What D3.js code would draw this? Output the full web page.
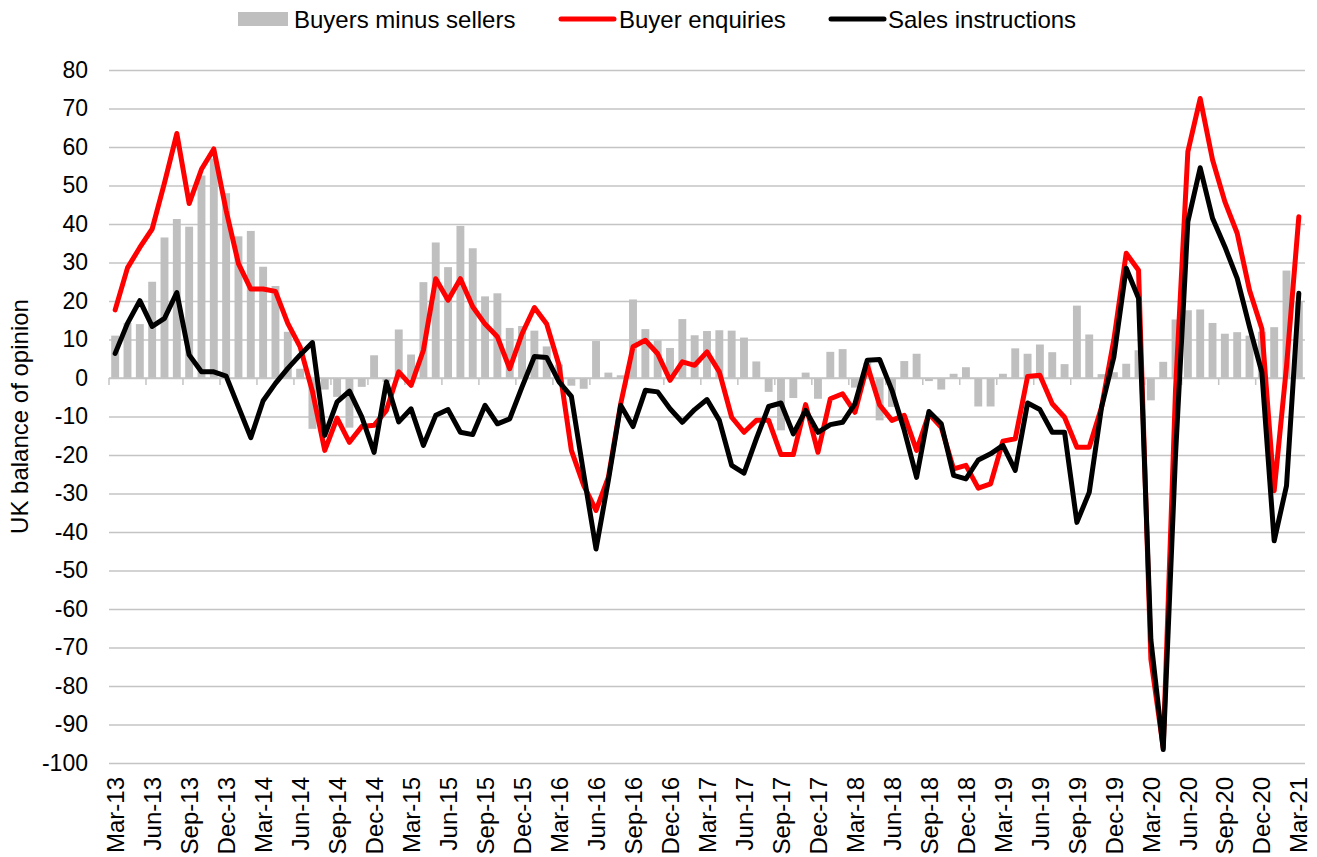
<!DOCTYPE html>
<html>
<head>
<meta charset="utf-8">
<script src="https://cdn.jsdelivr.net/npm/d3@7"></script>
<style>
  body { margin: 0; background: #fff; }
  svg { display: block; }
  text { font-family: "Liberation Sans", Arial, sans-serif; fill: #000; }
</style>
</head>
<body>
<svg id="chart" width="1317" height="857"></svg>
<script>
// Monthly categories, Mar-13 .. Mar-21
const months = [
  "Mar-13","Apr-13","May-13","Jun-13","Jul-13","Aug-13","Sep-13","Oct-13","Nov-13","Dec-13",
  "Jan-14","Feb-14","Mar-14","Apr-14","May-14","Jun-14","Jul-14","Aug-14","Sep-14","Oct-14","Nov-14","Dec-14",
  "Jan-15","Feb-15","Mar-15","Apr-15","May-15","Jun-15","Jul-15","Aug-15","Sep-15","Oct-15","Nov-15","Dec-15",
  "Jan-16","Feb-16","Mar-16","Apr-16","May-16","Jun-16","Jul-16","Aug-16","Sep-16","Oct-16","Nov-16","Dec-16",
  "Jan-17","Feb-17","Mar-17","Apr-17","May-17","Jun-17","Jul-17","Aug-17","Sep-17","Oct-17","Nov-17","Dec-17",
  "Jan-18","Feb-18","Mar-18","Apr-18","May-18","Jun-18","Jul-18","Aug-18","Sep-18","Oct-18","Nov-18","Dec-18",
  "Jan-19","Feb-19","Mar-19","Apr-19","May-19","Jun-19","Jul-19","Aug-19","Sep-19","Oct-19","Nov-19","Dec-19",
  "Jan-20","Feb-20","Mar-20","Apr-20","May-20","Jun-20","Jul-20","Aug-20","Sep-20","Oct-20","Nov-20","Dec-20",
  "Jan-21","Feb-21","Mar-21"
];

// Labelled categories on the x axis (quarterly)
const tickLabels = [
  "Mar-13","Jun-13","Sep-13","Dec-13","Mar-14","Jun-14","Sep-14","Dec-14",
  "Mar-15","Jun-15","Sep-15","Dec-15","Mar-16","Jun-16","Sep-16","Dec-16",
  "Mar-17","Jun-17","Sep-17","Dec-17","Mar-18","Jun-18","Sep-18","Dec-18",
  "Mar-19","Jun-19","Sep-19","Dec-19","Mar-20","Jun-20","Sep-20","Dec-20","Mar-21"
];

const yTicks = [-100,-90,-80,-70,-60,-50,-40,-30,-20,-10,0,10,20,30,40,50,60,70,80];

// Bars: balance of buyers minus sellers
const buyersMinusSellers = [
  11.0, 14.3, 14.0, 25.0, 36.5, 41.3, 39.3, 52.6, 57.0, 48.0,
  36.8, 38.2, 28.9, 23.9, 12.0, 2.4, -13.2, -3.0, -4.9, -12.9, -2.3, 5.9,
  -1.0, 12.6, 6.1, 24.9, 35.2, 28.8, 39.5, 33.7, 21.2, 22.0, 13.0, 13.5,
  12.3, 8.2, 3.5, -2.0, -2.8, 9.6, 1.4, 0.7, 20.4, 12.7, 9.8, 7.8,
  15.3, 11.1, 12.2, 12.4, 12.3, 10.5, 4.3, -3.6, -13.6, -5.2, 1.4, -5.4,
  6.8, 7.5, -2.5, 4.0, -11.0, -7.5, 4.4, 6.3, -0.8, -3.0, 1.1, 2.8,
  -7.4, -7.4, 1.1, 7.7, 6.3, 8.7, 6.7, 3.6, 18.8, 11.3, 1.0, 1.5,
  3.7, 7.2, -5.8, 4.2, 15.2, 17.6, 17.8, 14.3, 11.5, 11.9, 11.0, 12.0,
  13.2, 27.9, 20.0
];

// Red line: buyer enquiries
const buyerEnquiries = [
  17.7, 28.6, 33.9, 38.7, 50.7, 63.5, 45.3, 54.2, 59.5, 43.5,
  29.7, 23.1, 23.1, 22.5, 14.2, 8.1, -3.5, -18.8, -10.4, -16.7, -12.6, -12.3,
  -8.4, 1.6, -1.9, 7.2, 25.8, 20.2, 25.8, 18.5, 14.0, 10.7, 2.4, 11.5,
  18.3, 14.0, 3.3, -18.8, -27.9, -34.4, -25.8, -6.7, 8.1, 9.8, 6.3, -0.6,
  4.2, 3.3, 6.8, 1.6, -10.2, -14.1, -11.0, -11.0, -19.9, -19.9, -6.9, -19.3,
  -5.4, -4.1, -8.9, 3.3, -7.0, -11.0, -9.7, -18.8, -9.3, -12.8, -23.6, -22.7,
  -28.6, -27.5, -16.4, -15.8, 0.4, 0.7, -6.7, -10.2, -18.0, -18.0, -7.6, 10.0,
  32.4, 28.0, -73.0, -96.0, -3.0, 58.8, 72.6, 56.7, 45.8, 37.6, 22.8, 12.8,
  -29.3, 3.0, 41.9
];

// Black line: new sales instructions
const salesInstructions = [
  6.4, 14.2, 20.1, 13.4, 15.5, 22.2, 6.0, 1.6, 1.6, 0.5,
  -7.5, -15.5, -5.9, -1.4, 2.5, 6.0, 9.2, -14.9, -6.2, -3.4, -10.1, -19.3,
  -1.0, -11.4, -8.0, -17.5, -9.7, -8.2, -14.1, -14.7, -7.1, -11.9, -10.6, -2.3,
  5.6, 5.3, -1.0, -4.8, -24.9, -44.4, -26.6, -7.1, -12.6, -3.2, -3.6, -8.0,
  -11.5, -8.2, -5.6, -11.0, -22.7, -24.7, -15.8, -7.4, -6.5, -14.5, -8.4, -14.1,
  -12.1, -11.5, -6.7, 4.6, 4.8, -3.2, -13.6, -25.8, -8.7, -11.9, -25.3, -26.2,
  -21.3, -19.7, -17.5, -24.0, -6.5, -8.2, -14.1, -14.1, -37.5, -29.7, -7.6, 5.5,
  28.5, 20.7, -68.0, -96.5, -20.0, 40.6, 54.6, 41.5, 34.1, 25.9, 13.3, 1.5,
  -42.3, -28.0, 22.0
];

const svg = d3.select("#chart");
const plotLeft = 109, plotRight = 1305, plotTop = 70, plotBottom = 763;

const x = d3.scaleBand()
  .domain(months)
  .range([plotLeft, plotRight])
  .paddingInner(0.36)
  .paddingOuter(0.18);

const y = d3.scaleLinear().domain([-100, 80]).range([plotBottom, plotTop]);

const cx = m => x(m) + x.bandwidth() / 2;

// Horizontal gridlines with value labels (plain hyphen for negatives)
const yAxis = svg.append("g")
  .attr("transform", `translate(${plotLeft},0)`)
  .call(d3.axisLeft(y)
    .tickValues(yTicks)
    .tickFormat(d => String(d))
    .tickSize(-(plotRight - plotLeft))
    .tickPadding(21));
yAxis.select(".domain").remove();
yAxis.selectAll(".tick line").attr("stroke", "#c4c4c4").attr("stroke-width", 1.5);
yAxis.selectAll(".tick text").style("font-size", "23px").attr("fill", "#000");

// Bars
svg.append("g").selectAll("rect")
  .data(buyersMinusSellers)
  .join("rect")
  .attr("x", (d, i) => x(months[i]))
  .attr("width", x.bandwidth())
  .attr("y", d => y(Math.max(0, d)))
  .attr("height", d => Math.abs(y(d) - y(0)))
  .attr("fill", "#bfbfbf");

// Category axis line at zero with tick marks between categories
svg.append("line")
  .attr("x1", plotLeft).attr("x2", plotRight)
  .attr("y1", y(0)).attr("y2", y(0))
  .attr("stroke", "#c4c4c4").attr("stroke-width", 1.5);
svg.append("g").selectAll("line")
  .data(tickLabels)
  .join("line")
  .attr("x1", d => cx(d) - x.step() / 2)
  .attr("x2", d => cx(d) - x.step() / 2)
  .attr("y1", y(0)).attr("y2", y(0) + 7)
  .attr("stroke", "#c4c4c4").attr("stroke-width", 1.5);

// Category labels along the bottom, rotated
const xAxis = svg.append("g")
  .attr("transform", `translate(0,${plotBottom})`)
  .call(d3.axisBottom(x).tickValues(tickLabels).tickSize(0));
xAxis.select(".domain").remove();
xAxis.selectAll(".tick text")
  .attr("transform", "rotate(-90)")
  .attr("x", -14)
  .attr("y", 0)
  .attr("dy", "0.36em")
  .style("text-anchor", "end")
  .style("font-size", "24px")
  .attr("fill", "#000");

// Lines
const line = d3.line()
  .x((d, i) => cx(months[i]))
  .y(d => y(d));

svg.append("path")
  .datum(buyerEnquiries)
  .attr("d", line)
  .attr("fill", "none")
  .attr("stroke", "#ff0000")
  .attr("stroke-width", 5)
  .attr("stroke-linejoin", "round")
  .attr("stroke-linecap", "round");

svg.append("path")
  .datum(salesInstructions)
  .attr("d", line)
  .attr("fill", "none")
  .attr("stroke", "#000000")
  .attr("stroke-width", 5)
  .attr("stroke-linejoin", "round")
  .attr("stroke-linecap", "round");

// Y axis title
svg.append("text")
  .attr("transform", `translate(19,${(plotTop + plotBottom) / 2}) rotate(-90)`)
  .attr("text-anchor", "middle")
  .attr("dominant-baseline", "central")
  .style("font-size", "24px")
  .text("UK balance of opinion");

// Legend
const legend = svg.append("g").style("font-size", "24px");
legend.append("rect").attr("x", 238).attr("y", 12).attr("width", 50).attr("height", 14).attr("fill", "#bfbfbf");
legend.append("text").attr("x", 294).attr("y", 19).attr("dominant-baseline", "central").text("Buyers minus sellers");
legend.append("line").attr("x1", 561).attr("x2", 614).attr("y1", 19).attr("y2", 19)
  .attr("stroke", "#ff0000").attr("stroke-width", 5).attr("stroke-linecap", "round");
legend.append("text").attr("x", 619).attr("y", 19).attr("dominant-baseline", "central").text("Buyer enquiries");
legend.append("line").attr("x1", 831).attr("x2", 884).attr("y1", 19).attr("y2", 19)
  .attr("stroke", "#000000").attr("stroke-width", 5).attr("stroke-linecap", "round");
legend.append("text").attr("x", 888).attr("y", 19).attr("dominant-baseline", "central").text("Sales instructions");
</script>
</body>
</html>
